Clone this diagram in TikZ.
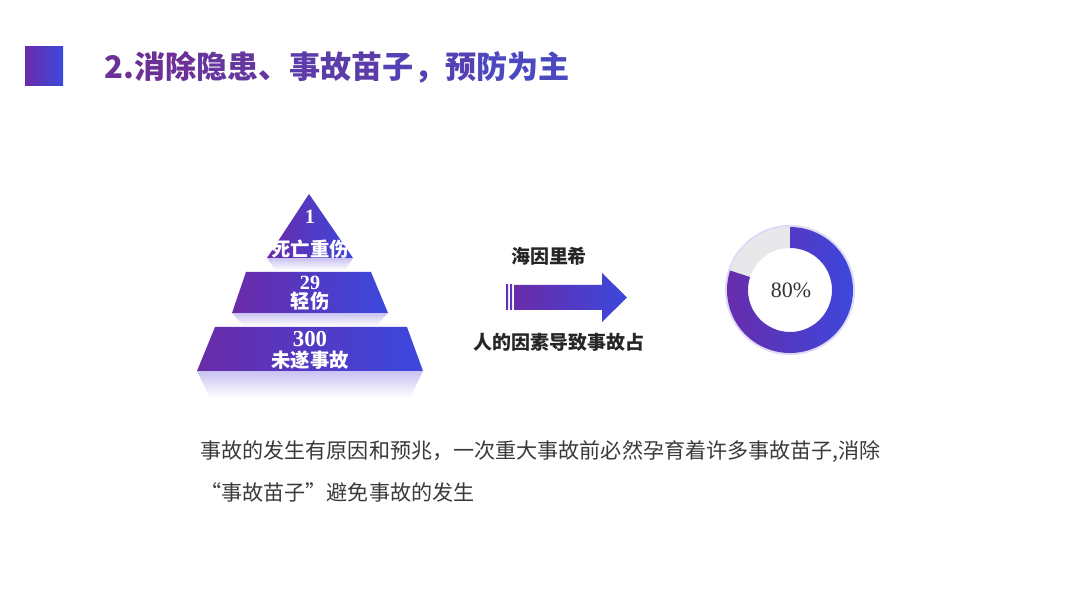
\documentclass[tikz,border=0pt]{standalone}
\usepackage{fontspec}
\newfontfamily\cjk{Noto Sans CJK SC}
\newfontfamily\serifnum{Liberation Serif}
\definecolor{pp}{HTML}{6A2BA8}
\definecolor{bb}{HTML}{3B48DE}
\definecolor{lav}{HTML}{C9C2F2}
\definecolor{ringgray}{HTML}{E8E8EA}
\definecolor{bodytext}{HTML}{3A3A3A}
\definecolor{tA}{HTML}{6C3096}
\definecolor{tB}{HTML}{64369E}
\definecolor{tC}{HTML}{5C3CA8}
\definecolor{tD}{HTML}{5442B4}
\definecolor{tE}{HTML}{4C48C0}
\tikzset{
  pyrlabel/.style={text=white, font=\cjk\bfseries\fontsize{11}{12}\selectfont, inner sep=0},
  pyrnum/.style={text=white, font=\serifnum\bfseries\fontsize{11.5}{12}\selectfont, inner sep=0},
  arrowlabel/.style={text=black!85, font=\cjk\bfseries\fontsize{10.8}{12}\selectfont, inner sep=0},
  bodyline/.style={text=bodytext, font=\cjk\fontsize{12}{14}\selectfont, inner sep=0, anchor=west}
}
\begin{document}
\begin{tikzpicture}[x=0.02cm,y=-0.02cm]
\useasboundingbox (0,0) rectangle (1080,608);
\fill[white] (0,0) rectangle (1080,608);
% title
\shade[left color=pp,right color=bb] (25,47) rectangle (63,86);
\node[anchor=west, inner sep=0, font=\cjk\bfseries\fontsize{17.7}{20}\selectfont] (title) at (104,67)
 {\textcolor{tA}{2.消除}\textcolor{tB}{隐患、}\textcolor{tC}{事故苗}\textcolor{tD}{子，预}\textcolor{tE}{防为主}};
% pyramid
\shade[top color=lav, bottom color=white] (267,258) -- (353,258) -- (345,270) -- (275,270) -- cycle;
\shade[top color=lav, bottom color=white] (232,313) -- (388,313) -- (376,326) -- (244,326) -- cycle;
\shade[top color=lav, bottom color=white] (197,371) -- (423,371) -- (410,398) -- (210,398) -- cycle;
\shade[left color=pp, right color=bb] (309,194) -- (353,258) -- (267,258) -- cycle;
\shade[left color=pp, right color=bb] (246,272) -- (371,272) -- (388,313) -- (232,313) -- cycle;
\shade[left color=pp, right color=bb] (215,327) -- (407,327) -- (423,371) -- (197,371) -- cycle;
\node[pyrnum] (n1) at (310,217) {1};
\node[pyrlabel] (l1) at (310,249) {死亡重伤};
\node[pyrnum] (n2) at (310,283) {29};
\node[pyrlabel] (l2) at (310,301) {轻伤};
\node[pyrnum, font=\serifnum\bfseries\fontsize{13}{14}\selectfont] (n3) at (310,339) {300};
\node[pyrlabel] (l3) at (310,360) {未遂事故};
% arrow
\shade[left color=pp, right color=bb] (506,285) rectangle (508,310);
\shade[left color=pp, right color=bb] (510,285) rectangle (512,310);
\shade[left color=pp, right color=bb] (514,285) -- (602,285) -- (602,273) -- (627,297.5) -- (602,322) -- (602,310) -- (514,310) -- cycle;
\node[arrowlabel] (a1) at (549,256) {海因里希};
\node[arrowlabel] (a2) at (559,342) {人的因素导致事故占};
% donut
\begin{scope}[shift={(790,290)}, yscale=-1]
  \draw[lav!60, line width=1.2pt] (0,0) circle[radius=64];
  \fill[ringgray] (90:63) arc[start angle=90, end angle=162, radius=63] -- (162:42) arc[start angle=162, end angle=90, radius=42] -- cycle;
  \shade[left color=pp, right color=bb] (162:63) arc[start angle=162, end angle=450, radius=63] -- (450:42) arc[start angle=450, end angle=162, radius=42] -- cycle;
\end{scope}
\node[inner sep=0, font=\serifnum\fontsize{12.5}{14}\selectfont, text=black!80] (pct) at (791,290) {80\%};
% body text
\node[bodyline] (b1) at (200,452) {事故的发生有原因和预兆，一次重大事故前必然孕育着许多事故苗子,消除};
\node[bodyline] (b2) at (200,492) {“事故苗子”避免事故的发生};
\end{tikzpicture}
\end{document}
